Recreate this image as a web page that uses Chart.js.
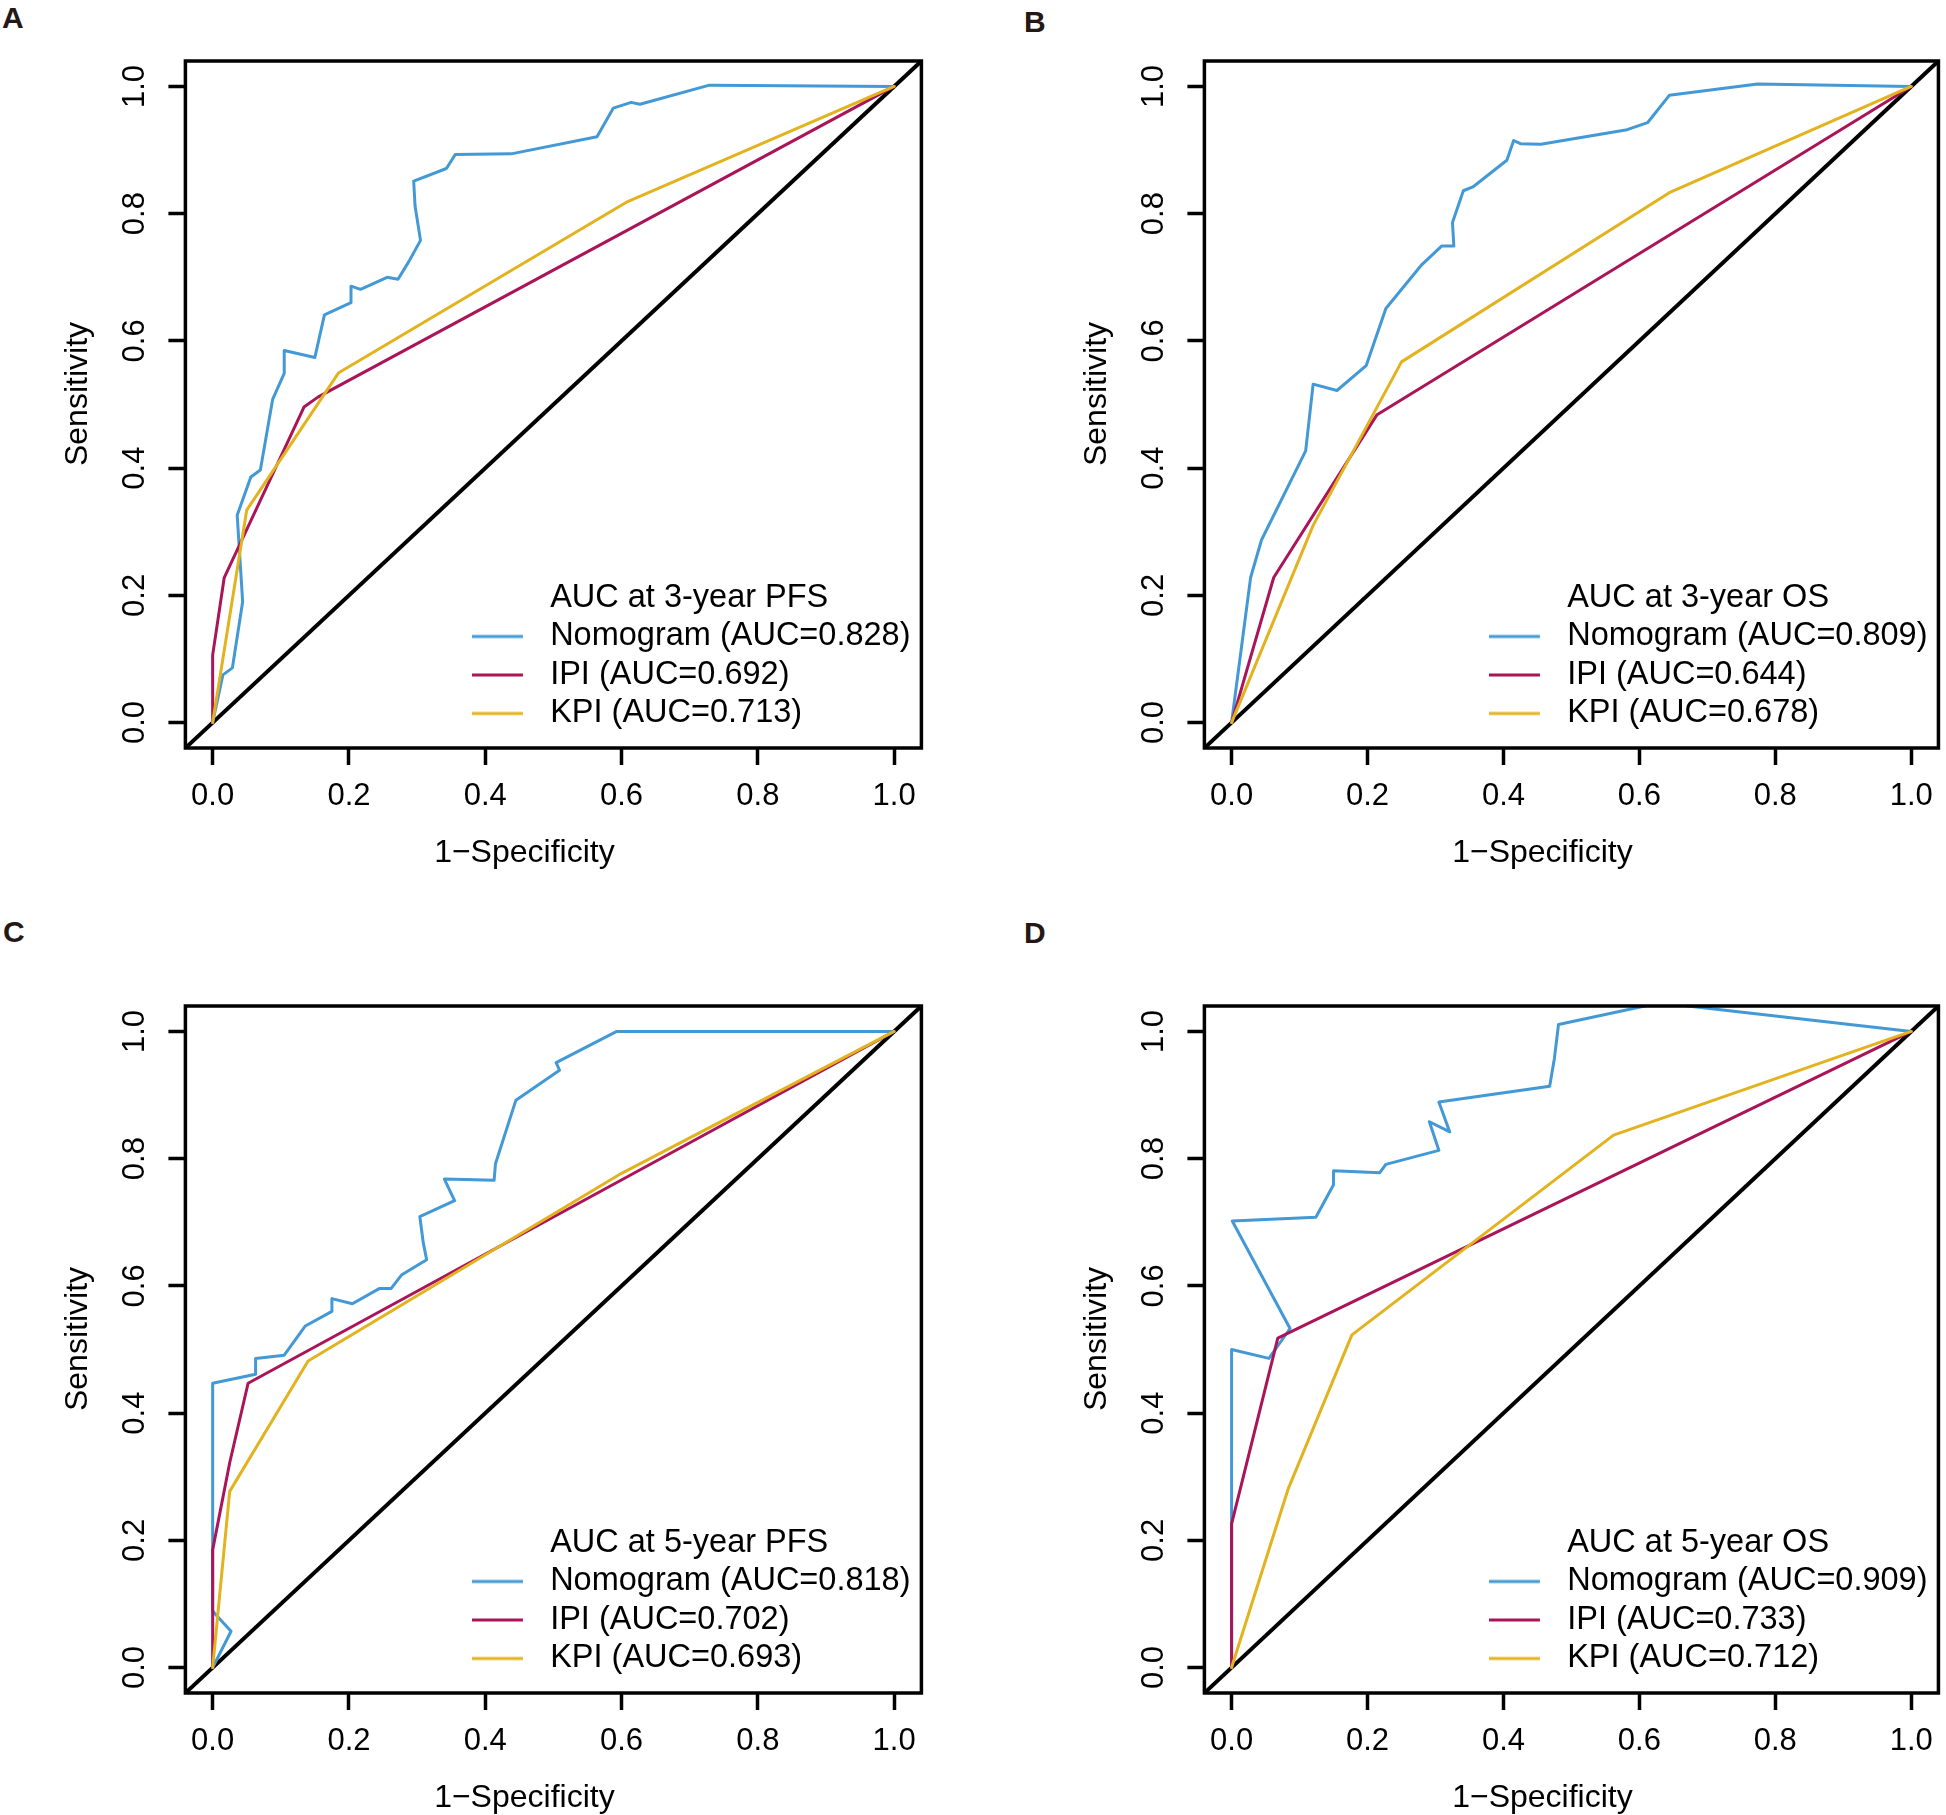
<!DOCTYPE html>
<html>
<head>
<meta charset="utf-8">
<script src="https://cdn.jsdelivr.net/npm/chart.js@4.4.1/dist/chart.umd.min.js"></script>
<style>
  html, body { margin: 0; padding: 0; background: #fff; overflow: hidden; width: 1946px; height: 1815px; }
  canvas { position: absolute; }
  .tag { position: absolute; font: bold 30px 'Liberation Sans', Arial, sans-serif; color: #231815; line-height: 30px; }
</style>
</head>
<body>
<div class="tag" style="left:2px;top:3px">A</div>
<div class="tag" style="left:1024px;top:7px">B</div>
<div class="tag" style="left:3px;top:917px">C</div>
<div class="tag" style="left:1024px;top:918px">D</div>
<canvas id="panelA" width="973" height="870" style="left:0;top:0"></canvas>
<canvas id="panelB" width="927" height="870" style="left:1019px;top:0"></canvas>
<canvas id="panelC" width="973" height="870" style="left:0;top:945px"></canvas>
<canvas id="panelD" width="927" height="870" style="left:1019px;top:945px"></canvas>
<script>
// shared axis stuff
const tickValues = [0, 0.2, 0.4, 0.6, 0.8, 1.0];
const tickLabels = ['0.0', '0.2', '0.4', '0.6', '0.8', '1.0'];
const xTitle = '1\u2212Specificity';
const yTitle = 'Sensitivity';
const diagX = [-0.04, 1.04];
const diagY = [-0.04, 1.04];
const seriesNames = ['Nomogram', 'IPI', 'KPI'];
const seriesColors = ['#4299d5', '#aa1459', '#e2b31f'];

// A: 3-year PFS
const fprA_nom = [0, 0.015, 0.029, 0.044, 0.036, 0.056, 0.07, 0.088, 0.105, 0.105, 0.15, 0.164, 0.203, 0.203, 0.217, 0.256, 0.272, 0.288, 0.305, 0.297, 0.295, 0.343, 0.356, 0.438, 0.564, 0.588, 0.614, 0.627, 0.729, 1];
const tprA_nom = [0, 0.075, 0.086, 0.19, 0.326, 0.386, 0.397, 0.508, 0.549, 0.585, 0.574, 0.641, 0.66, 0.686, 0.681, 0.70, 0.697, 0.725, 0.758, 0.812, 0.851, 0.871, 0.893, 0.894, 0.921, 0.966, 0.975, 0.972, 1.002, 1];
const fprA_ipi = [0, 0, 0.017, 0.134, 0.155, 1];
const tprA_ipi = [0, 0.106, 0.228, 0.496, 0.512, 1];
const fprA_kpi = [0, 0.05, 0.185, 0.609, 1];
const tprA_kpi = [0, 0.334, 0.55, 0.819, 1];
const aucA = ['0.828', '0.692', '0.713'];

// B: 3-year OS
const fprB_nom = [0, 0.028, 0.044, 0.109, 0.12, 0.155, 0.198, 0.227, 0.28, 0.309, 0.327, 0.325, 0.341, 0.355, 0.405, 0.415, 0.425, 0.455, 0.582, 0.612, 0.644, 0.774, 1];
const tprB_nom = [0, 0.228, 0.287, 0.427, 0.532, 0.522, 0.561, 0.651, 0.72, 0.749, 0.749, 0.786, 0.836, 0.842, 0.884, 0.915, 0.91, 0.909, 0.932, 0.943, 0.986, 1.004, 1];
const fprB_ipi = [0, 0.062, 0.214, 1];
const tprB_ipi = [0, 0.228, 0.484, 1];
const fprB_kpi = [0, 0.12, 0.25, 0.644, 1];
const tprB_kpi = [0, 0.31, 0.567, 0.833, 1];
const aucB = ['0.809', '0.644', '0.678'];

// C: 5-year PFS
const fprC_nom = [0, 0.027, 0.003, 0, 0, 0.063, 0.063, 0.105, 0.136, 0.175, 0.175, 0.205, 0.245, 0.262, 0.277, 0.314, 0.309, 0.304, 0.355, 0.34, 0.413, 0.415, 0.445, 0.509, 0.504, 0.593, 1];
const tprC_nom = [0, 0.057, 0.085, 0.09, 0.447, 0.461, 0.486, 0.491, 0.537, 0.56, 0.58, 0.572, 0.596, 0.596, 0.617, 0.641, 0.668, 0.709, 0.734, 0.768, 0.766, 0.792, 0.892, 0.939, 0.951, 1, 1];
const fprC_ipi = [0, 0, 0.025, 0.052, 1];
const tprC_ipi = [0, 0.185, 0.322, 0.447, 1];
const fprC_kpi = [0, 0.025, 0.14, 0.6, 1];
const tprC_kpi = [0, 0.277, 0.482, 0.777, 1];
const aucC = ['0.818', '0.702', '0.693'];

// D: 5-year OS
const fprD_nom = [0, 0, 0.055, 0.086, 0.001, 0.124, 0.15, 0.15, 0.218, 0.227, 0.305, 0.291, 0.321, 0.305, 0.468, 0.475, 0.481, 0.63, 1];
const tprD_nom = [0, 0.5, 0.486, 0.533, 0.702, 0.708, 0.759, 0.781, 0.778, 0.791, 0.813, 0.858, 0.842, 0.889, 0.914, 0.958, 1.011, 1.045, 1];
const fprD_ipi = [0, 0, 0.068, 1];
const tprD_ipi = [0, 0.226, 0.518, 1];
const fprD_kpi = [0, 0.083, 0.177, 0.562, 1];
const tprD_kpi = [0, 0.28, 0.523, 0.837, 1];
const aucD = ['0.909', '0.733', '0.712'];

const FONT = "'Liberation Sans', Arial, Helvetica, sans-serif";
Chart.defaults.font.family = FONT;
Chart.defaults.color = '#000';

function pts(xs, ys) { return xs.map((x, i) => ({ x: x, y: ys[i] })); }

// short line used as legend key (line 0..51, text starts after 62 + font/2)
function swatch(color) {
    const c = document.createElement('canvas');
    c.width = 62; c.height = 6;
    if (color) {
        const g = c.getContext('2d');
        g.strokeStyle = color; g.lineWidth = 3;
        g.beginPath(); g.moveTo(0, 3); g.lineTo(51, 3); g.stroke();
    }
    return c;
}

// box around plot, axis titles, and legend parked bottom-right like R's legend()
const framePlugin = {
    id: 'frame',
    afterLayout(chart) {
        const a = chart.chartArea, lg = chart.legend;
        if (!lg) return;
        const pad = lg.options.labels.padding;
        lg.left = a.right - 449.5 - pad;
        lg.top = a.top + 537 - 16.25 - pad;
        lg.right = lg.left + lg.width;
        lg.bottom = lg.top + lg.height;
    },
    afterDraw(chart) {
        const a = chart.chartArea, ctx = chart.ctx;
        ctx.save();
        ctx.strokeStyle = '#000';
        ctx.lineWidth = 3.5;
        ctx.strokeRect(a.left, a.top, a.right - a.left, a.bottom - a.top);
        ctx.fillStyle = '#000';
        ctx.font = '32px ' + FONT;
        ctx.textAlign = 'center';
        ctx.textBaseline = 'middle';
        ctx.fillText(xTitle, (a.left + a.right) / 2 - 29, a.bottom + 105);
        ctx.translate(78, (a.top + a.bottom) / 2 - 10.5);
        ctx.rotate(-Math.PI / 2);
        ctx.fillText(yTitle, 0, 0);
        ctx.restore();
    }
};

function axis(isY) {
    const o = {
        type: 'linear', min: -0.04, max: 1.04,
        afterBuildTicks: s => { s.ticks = tickValues.map(v => ({ value: v })); },
        ticks: {
            callback: (v, i) => tickLabels[i], autoSkip: false, color: '#000',
            font: { size: 31 }
        },
        grid: { drawOnChartArea: false, drawTicks: true, tickLength: 17, tickWidth: 3.5, tickColor: '#000' },
        border: { display: false },
        title: { display: false }
    };
    if (isY) {
        o.afterFit = s => { s.width = 185.4; };
        o.ticks.minRotation = 90; o.ticks.maxRotation = 90;
        o.ticks.crossAlign = 'center'; o.ticks.padding = 11;
    } else {
        o.afterFit = s => { s.height = 122; };
        o.ticks.maxRotation = 0; o.ticks.padding = 13;
    }
    return o;
}

function makePanel(id, legendTitle, aucs, curves) {
    const canvas = document.getElementById(id);
    const datasets = curves.map((c, i) => ({
        label: seriesNames[i], data: pts(c[0], c[1]),
        borderColor: seriesColors[i], borderWidth: 3,
        pointRadius: 0, pointHoverRadius: 0, tension: 0, fill: false, clip: 0, order: 3 - i,
        borderCapStyle: 'round', borderJoinStyle: 'round'
    }));
    datasets.push({
        label: 'ref', data: pts(diagX, diagY), borderColor: '#000', borderWidth: 4,
        pointRadius: 0, pointHoverRadius: 0, fill: false, clip: 0, order: 10
    });
    // first legend row is the heading, with no key line (as in the R legend)
    const legendRows = [{ text: legendTitle, color: null }].concat(
        seriesNames.map((n, i) => ({ text: n + ' (AUC=' + aucs[i] + ')', color: seriesColors[i] })));
    return new Chart(canvas.getContext('2d'), {
        type: 'line',
        data: { datasets: datasets },
        options: {
            responsive: false, animation: false, devicePixelRatio: 1,
            layout: { autoPadding: false, padding: { left: 0, top: 61, right: canvas.width - 921.4, bottom: 0 } },
            scales: { x: axis(false), y: axis(true) },
            plugins: {
                tooltip: { enabled: false },
                legend: {
                    position: 'chartArea', align: 'start',
                    labels: {
                        usePointStyle: true, pointStyleWidth: 62, padding: 6, color: '#000',
                        font: { size: 32.5 },
                        generateLabels: () => legendRows.map((r, i) => ({
                            text: r.text,
                            fillStyle: r.color || '#fff', strokeStyle: r.color || '#fff', lineWidth: 0,
                            pointStyle: swatch(r.color), fontColor: '#000',
                            hidden: false, datasetIndex: i
                        }))
                    }
                }
            }
        },
        plugins: [framePlugin]
    });
}

makePanel('panelA', 'AUC at 3-year PFS', aucA,
    [[fprA_nom, tprA_nom], [fprA_ipi, tprA_ipi], [fprA_kpi, tprA_kpi]]);
makePanel('panelB', 'AUC at 3-year OS', aucB,
    [[fprB_nom, tprB_nom], [fprB_ipi, tprB_ipi], [fprB_kpi, tprB_kpi]]);
makePanel('panelC', 'AUC at 5-year PFS', aucC,
    [[fprC_nom, tprC_nom], [fprC_ipi, tprC_ipi], [fprC_kpi, tprC_kpi]]);
makePanel('panelD', 'AUC at 5-year OS', aucD,
    [[fprD_nom, tprD_nom], [fprD_ipi, tprD_ipi], [fprD_kpi, tprD_kpi]]);
</script>
</body>
</html>
